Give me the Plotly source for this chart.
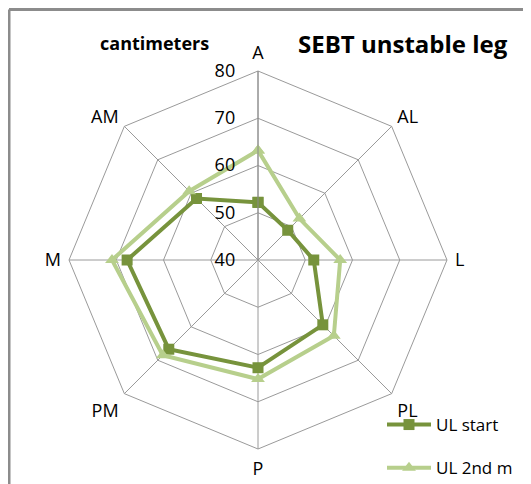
import plotly.graph_objects as go

categories = ["A", "AL", "L", "PL", "P", "PM", "M", "AM"]
ul_start = [52.2, 48.9, 51.8, 59.4, 62.8, 66.7, 67.7, 58.4]
ul_2nd_m = [63.2, 52.4, 57.4, 62.7, 65.2, 68.5, 70.9, 60.6]
radial_ticks = [40, 50, 60, 70, 80]

FONT = "Open Sans, sans-serif"
DARK = "#77933C"
LIGHT = "#B7CF8C"

W, H = 531, 484
# the page adds an 8px body margin, so layout positions are shifted by -8
OFF = 8
CX, CY, R = 258 - OFF, 260 - OFF, 189

def px(x):
    return (x - OFF) / W

def py(y):
    return 1 - (y - OFF) / H

def closed(vals):
    return list(vals) + [vals[0]]

fig = go.Figure()
fig.add_trace(go.Scatterpolar(
    r=closed(ul_start), theta=closed(categories), name="UL start",
    mode="lines+markers", line=dict(color=DARK, width=4),
    marker=dict(symbol="square", size=11, color=DARK),
    legendgroup="a",
))
fig.add_trace(go.Scatterpolar(
    r=closed(ul_2nd_m), theta=closed(categories), name="UL 2nd m",
    mode="lines+markers", line=dict(color=LIGHT, width=4),
    marker=dict(symbol="triangle-up", size=12, color=LIGHT),
    legendgroup="b",
))

fig.update_layout(
    width=W, height=H,
    margin=dict(l=0, r=0, t=0, b=0, autoexpand=False),
    paper_bgcolor="white",
    font=dict(family=FONT, size=17, color="#000000"),
    polar=dict(
        domain=dict(x=[(CX - R)/W, (CX + R)/W], y=[(H - CY - R)/H, (H - CY + R)/H]),
        bgcolor="white",
        gridshape="linear",
        radialaxis=dict(
            range=[40, 80], tickvals=radial_ticks, angle=90, tickangle=90,
            side="counterclockwise",
            showline=True, linecolor="#8a8a8a", linewidth=1,
            gridcolor="#9a9a9a", gridwidth=1,
            ticks="outside", ticklen=16, tickcolor="rgba(0,0,0,0)",
            tickfont=dict(size=18, family=FONT),
        ),
        angularaxis=dict(
            rotation=90, direction="clockwise",
            showline=True, linecolor="#9a9a9a", linewidth=1,
            gridcolor="#9a9a9a", gridwidth=1,
            ticks="outside", ticklen=4, tickcolor="rgba(0,0,0,0)",
            tickfont=dict(size=18, family=FONT),
        ),
    ),
    showlegend=True,
    legend=dict(
        x=px(382), y=py(407), xanchor="left", yanchor="top",
        font=dict(size=17, family=FONT), tracegroupgap=18,
        itemwidth=44, bgcolor="rgba(0,0,0,0)",
    ),
    shapes=[
        dict(type="line", xref="paper", yref="paper", x0=px(9), x1=1.02, y0=py(9.5), y1=py(9.5),
             line=dict(color="#8c8c8c", width=3)),
        dict(type="line", xref="paper", yref="paper", x0=px(9), x1=px(9), y0=-0.02, y1=py(9.5),
             line=dict(color="#8c8c8c", width=3)),
    ],
    annotations=[
        dict(text="<b>SEBT unstable leg</b>", xref="paper", yref="paper",
             x=px(403), y=py(44), xanchor="center", yanchor="middle",
             showarrow=False, font=dict(size=24, family=FONT)),
        dict(text="<b>cantimeters</b>", xref="paper", yref="paper",
             x=px(154), y=py(43), xanchor="center", yanchor="middle",
             showarrow=False, font=dict(size=18, family=FONT)),
    ],
)

fig.write_html("out.html")
